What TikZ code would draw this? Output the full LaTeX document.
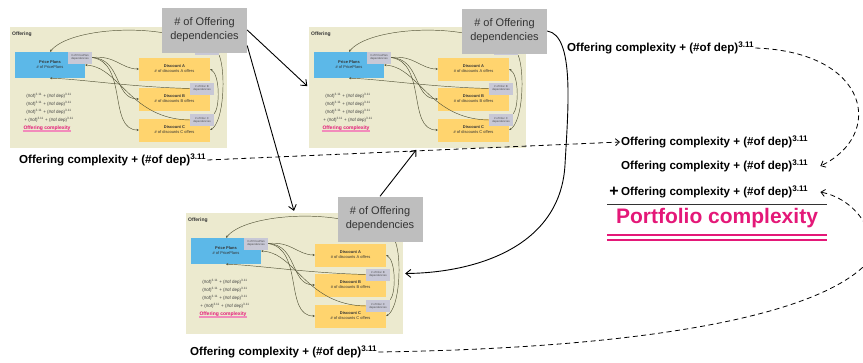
\documentclass[tikz,border=0pt]{standalone}
\usepackage{fontspec}
\setmainfont{Liberation Sans}
\usetikzlibrary{arrows.meta}

\definecolor{panelbg}{RGB}{236,234,207}
\definecolor{planblue}{RGB}{92,184,232}
\definecolor{discorange}{RGB}{255,212,110}
\definecolor{deplilac}{RGB}{200,200,214}
\definecolor{boxgrey}{RGB}{190,190,190}
\definecolor{hotpink}{RGB}{228,24,120}
\definecolor{olive}{RGB}{84,84,56}

\tikzset{
  panel/.style={fill=panelbg, minimum width=217pt, minimum height=121pt, inner sep=0pt},
  paneltitle/.style={font=\fontsize{5}{6}\selectfont\bfseries, text=black!80, inner sep=0pt},
  planbox/.style={fill=planblue, minimum width=70pt, minimum height=26pt, inner sep=0pt,
    align=center, font=\fontsize{4}{5}\selectfont, text=black!80},
  discbox/.style={fill=discorange, minimum width=71pt, minimum height=23pt, inner sep=0pt,
    align=center, font=\fontsize{4}{5}\selectfont, text=black!80},
  depbox/.style={fill=deplilac, minimum width=24pt, minimum height=12pt, inner sep=0.5pt,
    align=center, font=\fontsize{2.8}{3.4}\selectfont, text=black!70},
  formtxt/.style={align=center, font=\fontsize{4.5}{8}\selectfont, text=black!75, inner sep=0pt},
  octxt/.style={font=\fontsize{5}{6}\selectfont\bfseries, text=hotpink, inner sep=0.5pt},
  pinkbar/.style={draw=hotpink!50, line width=1.2pt},
  link/.style={draw=olive, line width=0.45pt, -{Stealth[length=2.2pt,width=2.2pt]}},
  offbox/.style={fill=boxgrey, minimum width=85pt, minimum height=45pt, inner sep=0pt,
    align=center, font=\fontsize{11}{14}\selectfont, text=black!80},
  jump/.style={line width=0.9pt, shorten >=2pt, -{Straight Barb[length=5pt,width=8pt]}},
  flow/.style={line width=0.8pt, dash pattern=on 5pt off 3.5pt,
    -{Straight Barb[length=4pt,width=7pt]}},
  sumtxt/.style={font=\fontsize{11.6}{14}\selectfont\bfseries, inner sep=1pt},
  portfolio/.style={font=\fontsize{21}{24}\selectfont\bfseries, text=hotpink, inner sep=0pt}
}

\begin{document}
\begin{tikzpicture}[x=1pt, y=-1pt]
  \useasboundingbox (0,0) rectangle (863,362);

  % three offering panels
  \foreach \n/\px/\py in {a/10/27, b/309/27, c/186/213}{
    \begin{scope}[shift={(\px,\py)}]
      \node[panel] (off\n) at (108.5,60.5) {};
      \node[paneltitle, anchor=west] at (2,7) {Offering};
      \node[planbox] (pp\n) at (40,38) {\textbf{Price Plans}\\\# of PricePlans};
      \node[discbox] (da\n) at (164.5,42) {\textbf{Discount A}\\\# of discounts A offers};
      \node[discbox] (db\n) at (164.5,72) {\textbf{Discount B}\\\# of discounts B offers};
      \node[discbox] (dc\n) at (164.5,103) {\textbf{Discount C}\\\# of discounts C offers};
      \node[depbox] (ppdep\n) at (70,30.5) {\# of PricePlan\\dependencies};
      \node[depbox] (dadep\n) at (197,22) {\# of Disc A\\dependencies};
      \node[depbox] (dbdep\n) at (192,61.5) {\# of Disc B\\dependencies};
      \node[depbox] (dcdep\n) at (192,93) {\# of Disc C\\dependencies};
      \node[formtxt] (form\n) at (39,81)
        {(\#of)\textsuperscript{3.11} + (\#of dep)\textsuperscript{3.11}\\
         (\#of)\textsuperscript{3.11} + (\#of dep)\textsuperscript{3.11}\\
         (\#of)\textsuperscript{3.11} + (\#of dep)\textsuperscript{3.11}\\
         + (\#of)\textsuperscript{3.11} + (\#of dep)\textsuperscript{3.11}};
      \node[octxt] (oc\n) at (37,101) {Offering complexity};
      \draw[pinkbar] (oc\n.south west) -- (oc\n.south east);

      \draw[link] (dadep\n.north west) .. controls (150,-4) and (60,0) .. (pp\n.north);
      \draw[link] (ppdep\n.east) .. controls (105,28) and (112,42) .. (da\n.west);
      \draw[link] (ppdep\n.east) .. controls (112,32) and (104,72) .. (db\n.west);
      \draw[link] (ppdep\n.east) .. controls (118,36) and (98,103) .. (dc\n.west);
      \draw[link] (dbdep\n.west) .. controls (120,60) and (70,52) .. (pp\n.south);
      \draw[link] (dcdep\n.west) .. controls (120,92) and (110,40) .. (pp\n.east);
      \draw[link] (dadep\n.south east) .. controls (216,45) and (214,95) .. (dc\n.east);
      \draw[link] (dcdep\n.north east) .. controls (210,80) and (210,48) .. (da\n.east);
    \end{scope}
  }

  \node[offbox] (dep1) at (204.5,30) {\# of Offering\\dependencies};
  \node[offbox] (dep2) at (504.5,31) {\# of Offering\\dependencies};
  \node[offbox] (dep3) at (380,219) {\# of Offering\\dependencies};

  \draw[jump] (dep1.east) -- (offb.west);
  \draw[jump] (dep1.-20) -- (offc.north);
  \draw[jump] (dep3.north) -- (offb.south);
  \draw[jump] (dep2.east) .. controls (575,35) and (568,110) .. (565,165)
    .. controls (560,250) and (470,273) .. (offc.east);

  % complexity sums
  \node[sumtxt, anchor=west] (suma) at (18,160) {Offering complexity + (\#of dep)\textsuperscript{3.11}};
  \node[sumtxt, anchor=west] (sumb) at (566,48) {Offering complexity + (\#of dep)\textsuperscript{3.11}};
  \node[sumtxt, anchor=west] (sumc) at (189,352) {Offering complexity + (\#of dep)\textsuperscript{3.11}};

  \node[sumtxt, anchor=west] (lista) at (620,142) {Offering complexity + (\#of dep)\textsuperscript{3.11}};
  \node[sumtxt, anchor=west] (listb) at (620,166) {Offering complexity + (\#of dep)\textsuperscript{3.11}};
  \node[sumtxt, anchor=west] (listc) at (620,192) {Offering complexity + (\#of dep)\textsuperscript{3.11}};
  \node[sumtxt, anchor=east, font=\fontsize{16}{16}\selectfont\bfseries] (plus) at (listc.west) {+};
  \draw[line width=0.7pt, black!80] (607,204) -- (827,204);
  \node[portfolio] (total) at (717,218) {Portfolio complexity};
  \draw[hotpink, line width=1.3pt] (607,235) -- (827,235) (607,240) -- (827,240);

  \draw[flow] (suma.east) -- (lista.west);
  \draw[flow] (sumb.east) .. controls (870,52) and (885,135) .. ([xshift=11pt]listb.east);
  \draw[flow] (sumc.east) .. controls (650,348) and (820,315) .. (868,262)
    .. controls (880,240) and (860,200) .. ([xshift=11pt]listc.east);
\end{tikzpicture}
\end{document}
